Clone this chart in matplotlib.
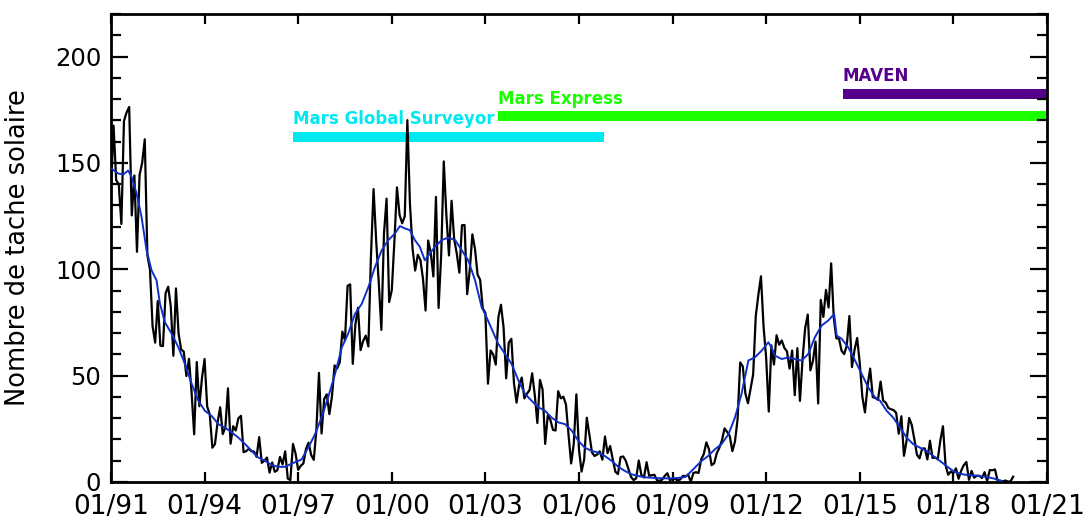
import numpy as np
import matplotlib
matplotlib.use("Agg")
import matplotlib.pyplot as plt
from matplotlib.ticker import MultipleLocator

# monthly sunspot number, Jan 1991 -> Dec 2019
ssn_1991_2019 = [
    136.9, 167.5, 141.9, 140.0, 121.3, 169.7, 173.7, 176.3, 125.3, 144.1, 108.2, 144.4,  # 1991
    150.0, 161.1, 106.7, 99.8, 73.3, 65.5, 85.1, 64.1, 63.9, 88.7, 91.8, 82.6,          # 1992
    59.3, 91.0, 69.8, 62.2, 61.3, 49.8, 57.9, 42.2, 22.4, 56.4, 35.6, 48.9,             # 1993
    57.8, 35.5, 31.7, 16.1, 17.8, 28.0, 35.1, 22.5, 25.7, 44.0, 18.0, 26.2,             # 1994
    24.2, 29.9, 31.1, 14.0, 14.5, 15.6, 14.5, 14.3, 11.8, 21.1, 9.0, 10.0,              # 1995
    11.5, 4.4, 9.2, 4.8, 5.5, 11.8, 8.2, 14.4, 1.6, 0.9, 17.9, 13.3,                    # 1996
    5.7, 7.6, 8.7, 15.5, 18.5, 12.7, 10.4, 24.4, 51.3, 22.8, 39.0, 41.2,                # 1997
    31.9, 40.3, 54.8, 53.4, 56.3, 70.7, 66.6, 92.2, 92.9, 55.5, 74.0, 81.9,             # 1998
    62.0, 66.3, 68.8, 63.7, 106.4, 137.7, 113.5, 93.7, 71.5, 116.7, 133.2, 84.6,        # 1999
    90.1, 112.9, 138.5, 125.5, 121.6, 124.9, 170.1, 130.5, 109.7, 99.4, 106.8, 104.4,   # 2000
    95.6, 80.6, 113.5, 107.7, 96.6, 134.0, 81.8, 106.4, 150.7, 125.5, 106.5, 132.2,     # 2001
    114.1, 107.4, 98.4, 120.7, 120.8, 88.3, 99.6, 116.4, 109.6, 97.5, 95.0, 81.6,       # 2002
    79.5, 46.2, 61.8, 60.0, 55.2, 77.4, 83.3, 72.7, 48.7, 65.5, 67.3, 46.5,             # 2003
    37.3, 45.8, 49.1, 39.3, 41.5, 43.2, 51.1, 40.9, 27.7, 48.0, 43.5, 17.9,             # 2004
    31.3, 29.2, 24.5, 24.2, 42.7, 39.3, 40.1, 36.4, 21.9, 8.7, 18.0, 41.2,              # 2005
    15.3, 4.9, 10.6, 30.2, 22.3, 13.9, 12.2, 12.9, 14.4, 10.5, 21.4, 13.6,              # 2006
    16.9, 10.6, 4.8, 3.7, 11.7, 12.0, 10.0, 6.2, 2.4, 0.9, 1.7, 10.1,                   # 2007
    3.3, 2.1, 9.3, 2.9, 3.2, 3.4, 0.8, 0.5, 1.1, 2.9, 4.1, 0.8,                         # 2008
    1.5, 1.4, 0.7, 1.2, 2.9, 2.6, 3.5, 0.0, 4.2, 4.6, 4.2, 10.6,                        # 2009
    13.1, 18.6, 15.4, 7.9, 8.8, 13.5, 16.1, 19.6, 25.2, 23.5, 21.6, 14.5,               # 2010
    19.0, 29.4, 56.2, 54.4, 41.6, 37.0, 43.9, 50.6, 78.0, 88.0, 96.7, 73.0,             # 2011
    58.3, 33.1, 64.2, 55.2, 69.0, 64.5, 66.5, 63.0, 61.4, 53.3, 61.8, 40.8,             # 2012
    62.9, 38.1, 57.9, 72.4, 78.7, 52.5, 57.0, 66.0, 36.9, 85.6, 77.6, 90.3,             # 2013
    82.0, 102.8, 77.2, 67.5, 67.5, 61.7, 60.1, 64.1, 78.0, 54.0, 62.2, 67.7,            # 2014
    55.8, 40.0, 32.7, 45.2, 53.3, 39.9, 39.5, 38.6, 47.2, 38.2, 37.3, 34.8,             # 2015
    34.2, 33.8, 32.5, 22.7, 30.9, 12.3, 19.4, 30.1, 26.8, 20.0, 12.8, 11.1,             # 2016
    15.7, 15.8, 10.6, 19.4, 11.3, 11.5, 10.7, 19.6, 26.2, 7.9, 3.4, 4.9,                # 2017
    4.1, 6.4, 1.5, 5.3, 7.9, 9.4, 1.0, 5.2, 2.0, 2.9, 2.9, 1.9,                         # 2018
    4.6, 0.5, 5.6, 5.5, 5.9, 0.7, 0.5, 0.3, 0.7, 0.2, 0.3, 2.5,                         # 2019
]

# smoothed curve (blue), decimal year / value
smooth_year = [
    1991.00, 1991.23, 1991.40, 1991.55, 1991.66, 1991.82, 1991.98, 1992.14, 1992.30, 1992.46,
    1992.57, 1992.73, 1992.95, 1993.16, 1993.37, 1993.59, 1993.80, 1994.01, 1994.23, 1994.44,
    1994.65, 1994.87, 1995.08, 1995.30, 1995.51, 1995.72, 1995.94, 1996.15, 1996.36, 1996.58,
    1996.79, 1997.00, 1997.11, 1997.32, 1997.54, 1997.75, 1997.96, 1998.18, 1998.40, 1998.60,
    1998.82, 1999.04, 1999.25, 1999.46, 1999.68, 1999.89, 2000.10, 2000.26, 2000.42, 2000.58,
    2000.74, 2000.90, 2001.06, 2001.22, 2001.38, 2001.60, 2001.81, 2002.03, 2002.24, 2002.45,
    2002.67, 2002.88, 2002.99, 2003.20, 2003.41, 2003.63, 2003.84, 2004.06, 2004.27, 2004.48,
    2004.70, 2004.91, 2005.12, 2005.34, 2005.55, 2005.77, 2005.98, 2006.19, 2006.41, 2006.62,
    2006.83, 2007.05, 2007.26, 2007.47, 2007.69, 2007.90, 2008.12, 2008.33, 2008.54, 2008.76,
    2008.97, 2009.18, 2009.40, 2009.50, 2009.72, 2009.93, 2010.14, 2010.36, 2010.57, 2010.79,
    2011.00, 2011.21, 2011.43, 2011.64, 2011.86, 2012.07, 2012.17, 2012.28, 2012.50, 2012.71,
    2012.92, 2013.14, 2013.35, 2013.56, 2013.78, 2013.99, 2014.18, 2014.26, 2014.42, 2014.63,
    2014.85, 2015.06, 2015.27, 2015.49, 2015.65, 2015.86, 2016.07, 2016.29, 2016.50, 2016.71,
    2016.93, 2017.14, 2017.36, 2017.57, 2017.78, 2017.99, 2018.21, 2018.42, 2018.64, 2018.85,
    2019.07, 2019.28, 2019.49, 2019.55,
]
smooth_val = [
    147.5, 145.0, 144.6, 146.4, 143.5, 135.7, 124.6, 109.0, 99.5, 94.8,
    83.8, 75.0, 69.6, 63.3, 55.5, 46.0, 38.2, 33.5, 31.0, 27.2,
    25.6, 23.3, 20.9, 17.8, 14.6, 11.5, 9.9, 8.0, 7.1, 7.1,
    8.6, 9.9, 10.6, 16.1, 22.4, 30.3, 39.7, 50.7, 63.3, 69.6,
    79.0, 83.8, 91.6, 101.0, 109.0, 113.7, 116.8, 120.3, 119.2, 118.4,
    113.7, 110.5, 104.2, 107.4, 110.5, 113.7, 114.9, 113.7, 109.0, 104.2,
    94.8, 82.2, 79.0, 72.0, 65.0, 60.2, 55.5, 47.7, 41.4, 38.2,
    35.1, 33.5, 30.3, 28.0, 27.2, 24.1, 19.3, 16.1, 14.6, 13.8,
    12.2, 9.9, 7.1, 5.2, 3.6, 2.8, 2.2, 2.0, 1.8, 1.7,
    1.7, 1.9, 2.3, 3.6, 6.8, 9.9, 12.2, 15.4, 17.8, 22.4,
    30.3, 41.4, 57.1, 58.6, 61.8, 65.7, 63.3, 59.4, 57.8, 58.6,
    57.8, 57.1, 60.2, 68.0, 73.6, 75.9, 79.0, 68.8, 67.3, 63.3,
    57.1, 50.8, 44.5, 39.7, 38.2, 33.5, 30.3, 25.6, 20.9, 17.8,
    16.1, 14.6, 12.2, 9.9, 7.5, 5.2, 3.9, 3.3, 3.1, 2.8,
    2.3, 1.7, 0.8, 0.5,
]

# missions: name, start, end, level
missions = ["Mars Global Surveyor", "Mars Express", "MAVEN"]
mission_start = [1996.84, 2003.41, 2014.46]
mission_end = [2006.81, 2022.0, 2022.0]
mission_level = [162.3, 172.1, 182.5]
mission_color = ["#00e8f0", "#1aff00", "#55008c"]

xtick_pos = [1991, 1994, 1997, 2000, 2003, 2006, 2009, 2012, 2015, 2018, 2021]
xtick_labels = ["01/91", "01/94", "01/97", "01/00", "01/03", "01/06",
                "01/09", "01/12", "01/15", "01/18", "01/21"]

months = 1991 + np.arange(len(ssn_1991_2019)) / 12.0

fig = plt.figure(figsize=(10.89, 5.24), dpi=100)
ax = fig.add_axes([0.1019, 0.0802, 0.8595, 0.8931])

for name, x0, x1, lev, col in zip(missions, mission_start, mission_end, mission_level, mission_color):
    ax.barh(lev, x1 - x0, left=x0, height=4.8, color=col, zorder=1)
    ax.text(x0, lev + 5.8, name, color=col, fontsize=12, fontweight="bold",
            ha="left", va="baseline", zorder=1)

ax.plot(months, ssn_1991_2019, color="black", lw=1.6, zorder=3)
ax.plot(smooth_year, smooth_val, color="#1030c8", lw=1.4, zorder=4)

ax.set_xlim(1991, 2021)
ax.set_ylim(0, 220)
ax.set_xticks(xtick_pos)
ax.set_xticklabels(xtick_labels)
ax.yaxis.set_major_locator(MultipleLocator(50))
ax.yaxis.set_minor_locator(MultipleLocator(10))

ax.tick_params(axis="x", which="major", direction="in", length=7, width=1.6,
               top=True, labelsize=19, pad=9)
ax.tick_params(axis="y", which="major", direction="in", length=12, width=1.6,
               right=True, labelsize=17.5, pad=7)
ax.tick_params(axis="y", which="minor", direction="in", length=7, width=1.6, right=True)
for s in ax.spines.values():
    s.set_linewidth(2)

ax.set_ylabel("Nombre de tache solaire", fontsize=18.5)
ax.yaxis.set_label_coords(-0.085, 0.5)

fig.savefig("out.png", dpi=100)
